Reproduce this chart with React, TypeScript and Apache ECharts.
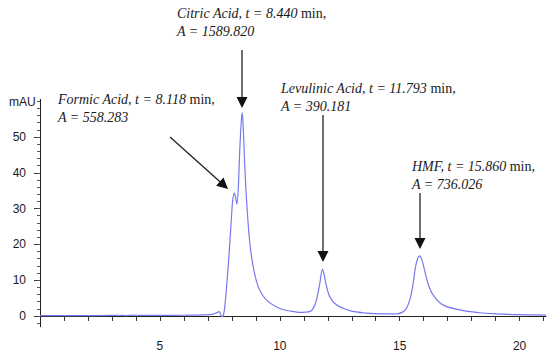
import React, { useEffect, useRef } from "react";
import * as echarts from "echarts";

// retention time (min) and absorbance (mAU)
const times = [
  0, 1, 2, 3, 3.3, 3.6, 3.9, 4.2, 5, 6, 6.8, 7.2, 7.4, 7.47, 7.53, 7.58, 7.65, 7.72, 7.78, 7.85,
  7.92, 7.98, 8.03, 8.1, 8.16, 8.21, 8.27, 8.33, 8.39, 8.43, 8.48, 8.54, 8.64, 8.75, 8.89, 9.1,
  9.44, 10, 10.5, 10.83, 11.25, 11.4, 11.53, 11.67, 11.78, 11.85, 11.92, 12.08, 12.36, 12.92,
  13.6, 14.3, 14.86, 15.1, 15.28, 15.45, 15.56, 15.69, 15.83, 15.92, 16.0, 16.18, 16.39, 16.8,
  17.5, 18.33, 19, 20, 21.1,
];
const absorbance = [
  0.1, 0.1, 0.1, 0.15, 0.2, 0.1, 0.25, 0.15, 0.15, 0.2, 0.3, 0.5, 1.0, 1.2, 0.5, -0.2, 0.2, 3.5, 8.2, 14,
  21, 27, 32, 34.4, 33, 31.3, 36, 46.4, 54, 56.8, 52, 41.7, 29.6, 20.4, 13.8, 8.2,
  4.5, 2.1, 1.3, 1.0, 1.2, 2.2, 4.5, 9.2, 13.0, 11.5, 9.1, 5.4, 3.1, 1.5,
  0.8, 0.6, 0.6, 1.0, 2.1, 5.2, 9.1, 14.7, 16.8, 15.8, 13.8, 9.1, 5.9, 3.1,
  1.7, 0.9, 0.6, 0.35, 0.25,
];

const xTickValues = [1, 2, 3, 4, 5, 6, 7, 8, 9, 10, 11, 12, 13, 14, 15, 16, 17, 18, 19, 20, 21];
const xLabelValues = [5, 10, 15, 20];
const yLabelValues = [0, 10, 20, 30, 40, 50];
const yMinorValues = [-2, 0, 2, 4, 6, 8, 10, 12, 14, 16, 18, 20, 22, 24, 26, 28, 30, 32, 34, 36, 38, 40, 42, 44, 46, 48, 50, 52, 54, 56, 58, 60];

const annotations = [
  { name: "Citric Acid", t: "8.440", area: "1589.820" },
  { name: "Formic Acid", t: "8.118", area: "558.283" },
  { name: "Levulinic Acid", t: "11.793", area: "390.181" },
  { name: "HMF", t: "15.860", area: "736.026" },
];

const ANN_POS = [
  [177, 4],
  [58, 90],
  [281, 79],
  [412, 157],
];

const FONT = "'Liberation Sans', Arial, sans-serif";
const SERIF = "'Liberation Serif', 'Times New Roman', serif";
const INK = "#1a1a1a";

export default function App() {
  const ref = useRef<HTMLDivElement>(null);
  useEffect(() => {
    if (!ref.current) return;
    const chart = echarts.init(ref.current, undefined, { renderer: "svg" });
    const textEls = annotations.map((a, i) => ({
      type: "text",
      x: ANN_POS[i][0],
      y: ANN_POS[i][1],
      style: {
        text: `{i|${a.name}, t = ${a.t}} {n|min,}\n{i|A = ${a.area}}`,
        rich: {
          i: { fontFamily: SERIF, fontStyle: "italic", fontSize: 14, lineHeight: 18.5, fill: INK },
          n: { fontFamily: SERIF, fontStyle: "normal", fontSize: 14, lineHeight: 18.5, fill: INK },
        },
        fill: INK,
      },
    }));
    const arrow = (x1: number, y1: number, x2: number, y2: number) => {
      const dx = x2 - x1, dy = y2 - y1;
      const len = Math.sqrt(dx * dx + dy * dy);
      const ux = dx / len, uy = dy / len;
      const hl = 11, hw = 5.5;
      const bx = x2 - ux * hl, by = y2 - uy * hl;
      return [
        { type: "line", shape: { x1, y1, x2: bx + ux, y2: by + uy }, style: { stroke: "#222", lineWidth: 1.3 } },
        {
          type: "polygon",
          shape: { points: [[bx - uy * hw, by + ux * hw], [bx + uy * hw, by - ux * hw], [x2, y2]] },
          style: { fill: "#111" },
        },
      ];
    };
    chart.setOption({
      animation: false,
      grid: { left: 40, right: 4, top: 99.4, bottom: 31.3, containLabel: false },
      xAxis: {
        type: "value",
        min: 0,
        max: 21.1,
        axisLine: { show: true, lineStyle: { color: "#222", width: 1 } },
        axisTick: { show: true, length: 5, customValues: xTickValues, lineStyle: { color: "#333" } },
        axisLabel: {
          customValues: xLabelValues,
          margin: 13,
          fontFamily: FONT,
          fontSize: 12,
          color: INK,
        },
        splitLine: { show: false },
      },
      yAxis: [
        {
          type: "value",
          position: "left",
          min: -3,
          max: 60.5,
          axisLine: { show: true, lineStyle: { color: "#222", width: 1 } },
          axisTick: { show: true, length: 6, customValues: yLabelValues, lineStyle: { color: "#333" } },
          axisLabel: { customValues: yLabelValues, margin: 14, fontFamily: FONT, fontSize: 12, color: INK },
          splitLine: { show: false },
        },
        {
          type: "value",
          position: "left",
          min: -3,
          max: 60.5,
          axisLine: { show: false },
          axisTick: { show: true, length: 3, customValues: yMinorValues, lineStyle: { color: "#555" } },
          axisLabel: { show: false },
          splitLine: { show: false },
        },
      ],
      series: [
        {
          type: "line",
          yAxisIndex: 0,
          data: times.map((t, i) => [t, absorbance[i]]),
          showSymbol: false,
          smooth: 0.35,
          lineStyle: { color: "#7878f0", width: 1.2 },
        },
      ],
      graphic: [
        { type: "text", x: 9, y: 102, style: { text: "mAU", fontFamily: FONT, fontSize: 12, fill: INK, verticalAlign: "middle" } },
        ...textEls,
        ...arrow(242, 50, 242, 108),
        ...arrow(170, 137, 228, 189),
        ...arrow(323, 115, 323, 262),
        ...arrow(420, 193, 420, 249),
      ],
    });
    return () => chart.dispose();
  }, []);
  return <div ref={ref} style={{ width: 550, height: 358, position: "absolute", left: 0, top: 0, background: "#fff" }} />;
}
